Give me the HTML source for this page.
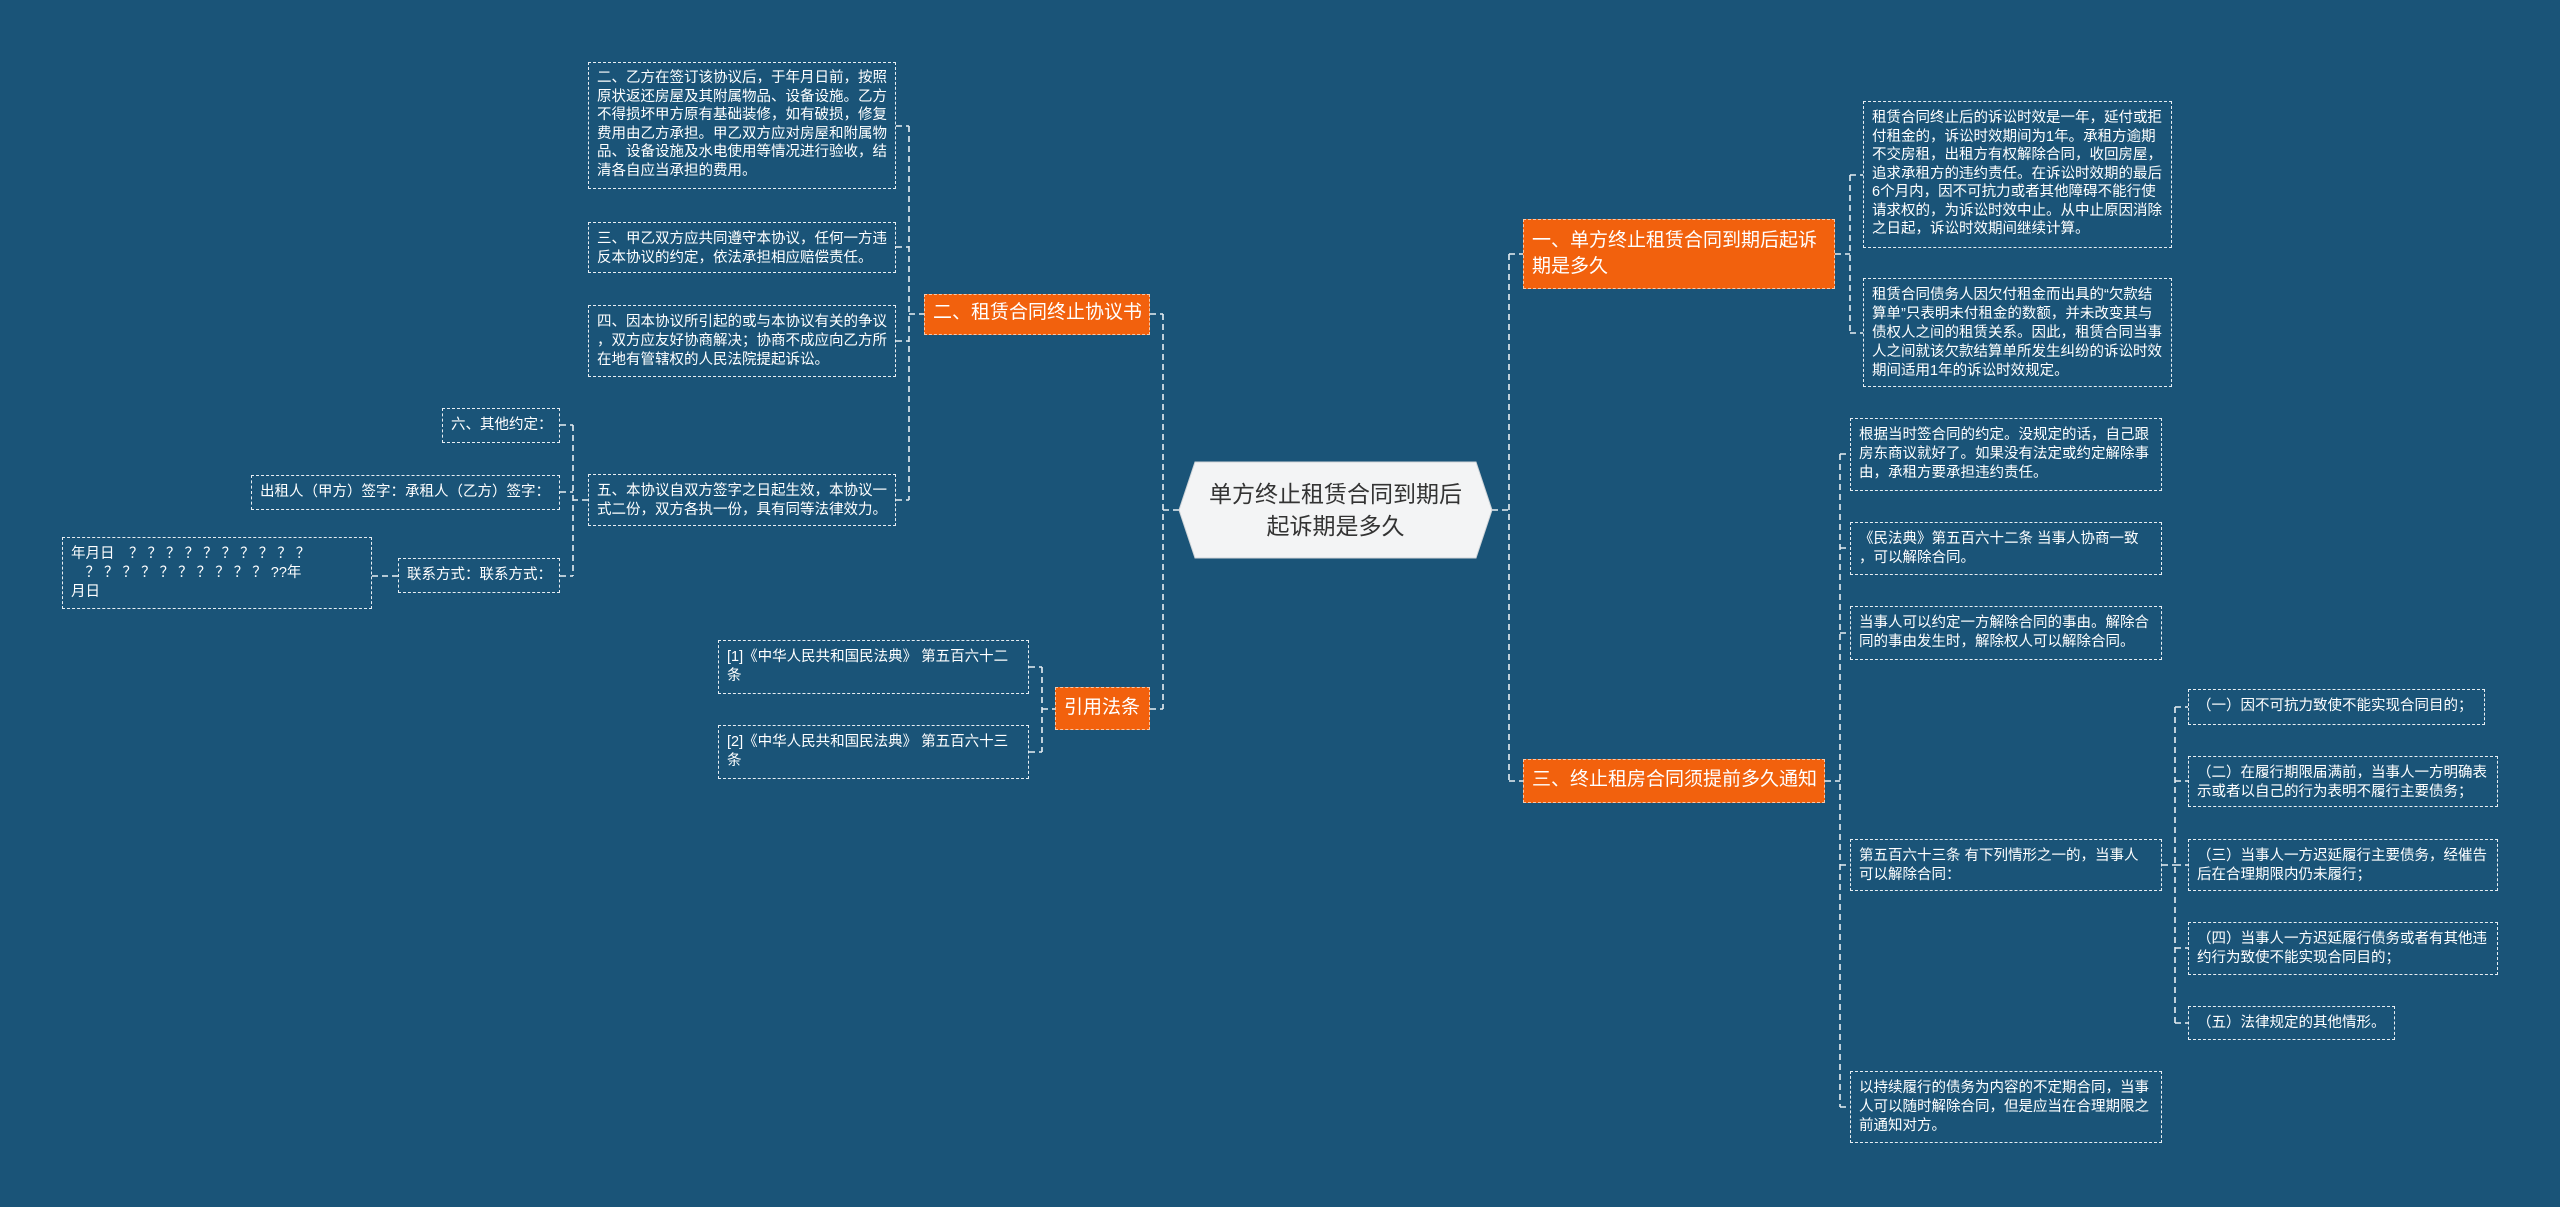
<!DOCTYPE html>
<html><head><meta charset="utf-8">
<style>
html,body{margin:0;padding:0;}
body{width:2560px;height:1207px;background:#1a5478;position:relative;overflow:hidden;font-family:"Liberation Sans","Noto Sans CJK SC",sans-serif;}
.b{position:absolute;box-sizing:border-box;border:1.5px dashed #e8eef3;color:#fff;font-size:14.5px;line-height:19px;padding:7px 8px;white-space:nowrap;}
.o{position:absolute;box-sizing:border-box;background:#f2610d;border:1.5px dashed #f7c7a8;color:#fff;font-size:19px;line-height:26px;padding:6px 8px;white-space:nowrap;}
svg{position:absolute;left:0;top:0;}
.c{position:absolute;left:1179px;top:462px;width:313px;height:96px;display:flex;align-items:center;justify-content:center;text-align:center;color:#333;font-size:23px;line-height:32px;}
</style></head><body>
<svg width="2560" height="1207">
<g stroke="#e8eef3" stroke-width="1.6" stroke-dasharray="6,4" fill="none">
<path d="M896 126H909M896 247H909M896 341H909M896 500H909M909 126V500M909 314H924"/>
<path d="M588 500H573M573 425V576M560 425H573M560 492H573M560 576H573M372 576H398"/>
<path d="M1150 314H1163M1150 709H1163M1163 314V709M1163 510H1179"/>
<path d="M1042 667V752M1029 667H1042M1029 752H1042M1042 709H1055"/>
<path d="M1492 510H1509M1509 254V781M1509 254H1523M1509 781H1523"/>
<path d="M1835 254H1850M1850 175V333M1850 175H1863M1850 333H1863"/>
<path d="M1825 781H1840M1840 454V1107M1840 454H1850M1840 548H1850M1840 633H1850M1840 865H1850M1840 1107H1850"/>
<path d="M2162 865H2175M2175 707V1023M2175 707H2188M2175 781H2188M2175 865H2188M2175 948H2188M2175 1023H2188"/>
</g>
<polygon points="1179,510 1195,462 1476,462 1492,510 1476,558 1195,558" fill="#f3f4f5" stroke="#d0d4d8" stroke-width="1"/>
</svg>
<div class="c">单方终止租赁合同到期后<br>起诉期是多久</div>

<div class="b" style="left:588px;top:62px;width:308px;height:127px;line-height:18.5px;padding-top:6px">二、乙方在签订该协议后，于年月日前，按照<br>原状返还房屋及其附属物品、设备设施。乙方<br>不得损坏甲方原有基础装修，如有破损，修复<br>费用由乙方承担。甲乙双方应对房屋和附属物<br>品、设备设施及水电使用等情况进行验收，结<br>清各自应当承担的费用。</div>
<div class="b" style="left:588px;top:222px;width:308px;height:51px">三、甲乙双方应共同遵守本协议，任何一方违<br>反本协议的约定，依法承担相应赔偿责任。</div>
<div class="b" style="left:588px;top:305px;width:308px;height:72px">四、因本协议所引起的或与本协议有关的争议<br>，双方应友好协商解决；协商不成应向乙方所<br>在地有管辖权的人民法院提起诉讼。</div>
<div class="b" style="left:588px;top:474px;width:308px;height:52px">五、本协议自双方签字之日起生效，本协议一<br>式二份，双方各执一份，具有同等法律效力。</div>
<div class="o" style="left:924px;top:294px;width:226px;height:41px;padding-top:5px">二、租赁合同终止协议书</div>
<div class="b" style="left:442px;top:408px;width:118px;height:35px">六、其他约定：</div>
<div class="b" style="left:251px;top:475px;width:309px;height:35px">出租人（甲方）签字：承租人（乙方）签字：</div>
<div class="b" style="left:398px;top:558px;width:162px;height:35px">联系方式：联系方式：</div>
<div class="b" style="left:62px;top:537px;width:310px;height:72px;word-spacing:0">年月日　？ ？ ？ ？ ？ ？ ？ ？ ？ ？<br>　？ ？ ？ ？ ？ ？ ？ ？ ？ ？ ??年<br>月日</div>
<div class="o" style="left:1055px;top:687px;width:95px;height:43px;padding-top:7px">引用法条</div>
<div class="b" style="left:718px;top:640px;width:311px;height:54px">[1]《中华人民共和国民法典》 第五百六十二<br>条</div>
<div class="b" style="left:718px;top:725px;width:311px;height:54px">[2]《中华人民共和国民法典》 第五百六十三<br>条</div>

<div class="o" style="left:1523px;top:219px;width:312px;height:70px;padding-top:8px">一、单方终止租赁合同到期后起诉<br>期是多久</div>
<div class="b" style="left:1863px;top:101px;width:309px;height:147px;line-height:18.5px">租赁合同终止后的诉讼时效是一年，延付或拒<br>付租金的，诉讼时效期间为1年。承租方逾期<br>不交房租，出租方有权解除合同，收回房屋，<br>追求承租方的违约责任。在诉讼时效期的最后<br>6个月内，因不可抗力或者其他障碍不能行使<br>请求权的，为诉讼时效中止。从中止原因消除<br>之日起，诉讼时效期间继续计算。</div>
<div class="b" style="left:1863px;top:278px;width:309px;height:109px">租赁合同债务人因欠付租金而出具的“欠款结<br>算单”只表明未付租金的数额，并未改变其与<br>债权人之间的租赁关系。因此，租赁合同当事<br>人之间就该欠款结算单所发生纠纷的诉讼时效<br>期间适用1年的诉讼时效规定。</div>
<div class="o" style="left:1523px;top:759px;width:302px;height:44px;padding-top:7px">三、终止租房合同须提前多久通知</div>
<div class="b" style="left:1850px;top:418px;width:312px;height:73px">根据当时签合同的约定。没规定的话，自己跟<br>房东商议就好了。如果没有法定或约定解除事<br>由，承租方要承担违约责任。</div>
<div class="b" style="left:1850px;top:522px;width:312px;height:53px">《民法典》第五百六十二条 当事人协商一致<br>，可以解除合同。</div>
<div class="b" style="left:1850px;top:606px;width:312px;height:54px">当事人可以约定一方解除合同的事由。解除合<br>同的事由发生时，解除权人可以解除合同。</div>
<div class="b" style="left:1850px;top:839px;width:312px;height:52px">第五百六十三条 有下列情形之一的，当事人<br>可以解除合同：</div>
<div class="b" style="left:1850px;top:1071px;width:312px;height:72px">以持续履行的债务为内容的不定期合同，当事<br>人可以随时解除合同，但是应当在合理期限之<br>前通知对方。</div>
<div class="b" style="left:2188px;top:689px;width:297px;height:36px">（一）因不可抗力致使不能实现合同目的；</div>
<div class="b" style="left:2188px;top:756px;width:310px;height:51px">（二）在履行期限届满前，当事人一方明确表<br>示或者以自己的行为表明不履行主要债务；</div>
<div class="b" style="left:2188px;top:839px;width:310px;height:52px">（三）当事人一方迟延履行主要债务，经催告<br>后在合理期限内仍未履行；</div>
<div class="b" style="left:2188px;top:922px;width:310px;height:53px">（四）当事人一方迟延履行债务或者有其他违<br>约行为致使不能实现合同目的；</div>
<div class="b" style="left:2188px;top:1006px;width:207px;height:34px">（五）法律规定的其他情形。</div>
</body></html>
